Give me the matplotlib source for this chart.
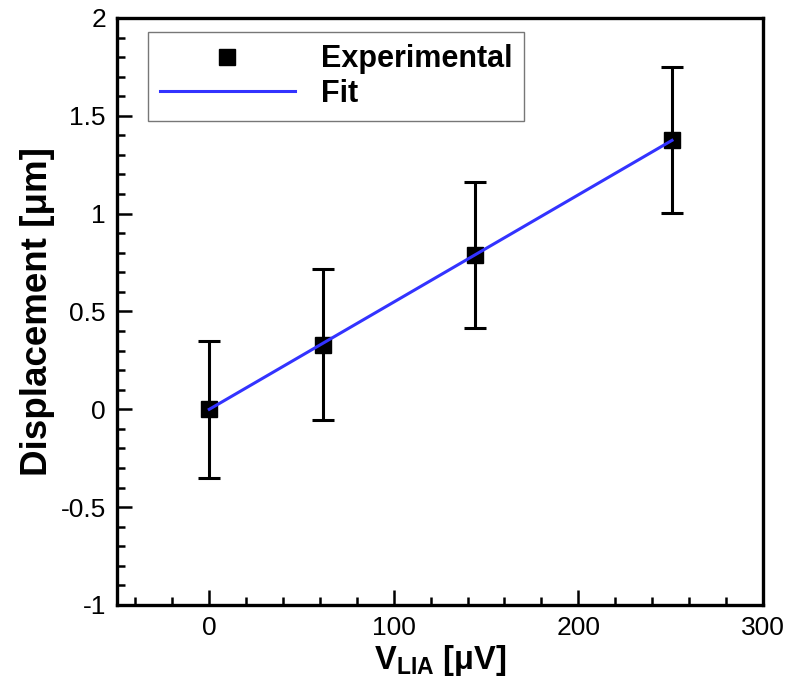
import numpy as np
import matplotlib
matplotlib.use("Agg")
import matplotlib.pyplot as plt
from matplotlib.ticker import MultipleLocator, FuncFormatter

plt.rcParams['font.family'] = ['Liberation Sans', 'DejaVu Sans']
plt.rcParams['mathtext.fontset'] = 'custom'
plt.rcParams['mathtext.rm'] = 'Liberation Sans'
plt.rcParams['mathtext.bf'] = 'Liberation Sans:bold'

# measured data
v_lia = [0, 61.6, 143.8, 250.8]
displacement = [0.0, 0.33, 0.79, 1.375]
disp_err = [0.35, 0.385, 0.373, 0.374]

# linear fit through the origin
fit_x = [0, 250.8]
fit_slope = 0.00548

fig = plt.figure(figsize=(7.88, 6.90), dpi=100)
ax = fig.add_axes([0.1485, 0.1232, 0.8195, 0.8508])

ax.errorbar(v_lia, displacement, yerr=disp_err, fmt='none', ecolor='black',
            elinewidth=2.2, capsize=8, capthick=2.2, zorder=2)
ax.plot(v_lia, displacement, 's', color='black', markersize=11.5, zorder=3,
        label='Experimental')
fx = np.array(fit_x)
ax.plot(fx, fit_slope * fx, color='#3333ff', linewidth=2.2, zorder=4, label='Fit')

ax.set_xlim(-50, 300)
ax.set_ylim(-1, 2)
ax.xaxis.set_major_locator(MultipleLocator(100))
ax.xaxis.set_minor_locator(MultipleLocator(20))
ax.yaxis.set_major_locator(MultipleLocator(0.5))
ax.yaxis.set_minor_locator(MultipleLocator(0.1))
ax.yaxis.set_major_formatter(FuncFormatter(lambda v, pos: '%g' % v))

ax.tick_params(which='both', direction='in', top=False, right=False,
               labelsize=19, width=1.8)
ax.tick_params(which='major', length=11, pad=8)
ax.tick_params(which='minor', length=6)
for s in ax.spines.values():
    s.set_linewidth(2.4)

ax.set_xlabel(r'$\mathbf{V_{LIA}}$ [μV]', fontsize=23.5, fontweight='bold', labelpad=2)
ax.set_ylabel('Displacement [μm]', fontsize=26.5, fontweight='bold', labelpad=4)

leg = ax.legend(loc='upper left', bbox_to_anchor=(0.048, 0.976),
                prop={'weight': 'bold', 'size': 22}, frameon=True, fancybox=False,
                edgecolor='#555555', handlelength=4.4, handletextpad=0.85,
                borderpad=0.4, labelspacing=0.15, borderaxespad=0)
leg.get_frame().set_linewidth(1)

fig.savefig('out.png', dpi=100)
